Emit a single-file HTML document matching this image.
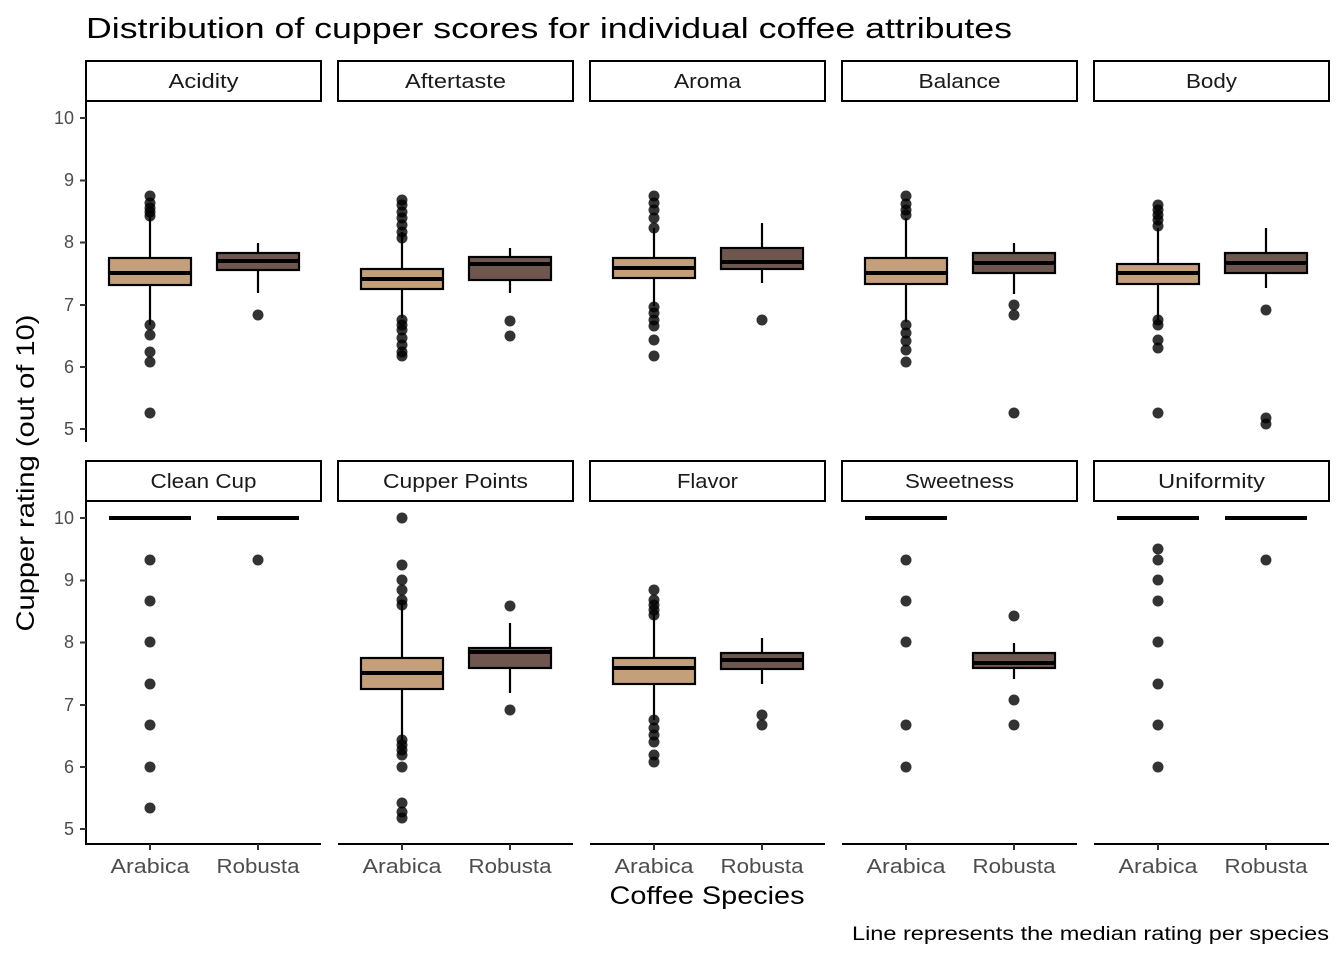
<!DOCTYPE html>
<html><head><meta charset="utf-8"><style>
html,body{margin:0;padding:0;background:#fff;}
svg{display:block;font-family:"Liberation Sans","DejaVu Sans",sans-serif;}
</style></head><body>
<svg id="s" width="1344" height="960" viewBox="0 0 1344 960" xmlns="http://www.w3.org/2000/svg">
<text x="86" y="38" font-size="29" fill="#000" textLength="926" lengthAdjust="spacingAndGlyphs">Distribution of cupper scores for individual coffee attributes</text>
<g id="strips" fill="#fff" stroke="#000" stroke-width="2">
<rect x="86" y="61" width="235" height="40"/><rect x="338" y="61" width="235" height="40"/><rect x="590" y="61" width="235" height="40"/><rect x="842" y="61" width="235" height="40"/><rect x="1094" y="61" width="235" height="40"/>
<rect x="86" y="461" width="235" height="40"/><rect x="338" y="461" width="235" height="40"/><rect x="590" y="461" width="235" height="40"/><rect x="842" y="461" width="235" height="40"/><rect x="1094" y="461" width="235" height="40"/>
</g>
<g font-size="20" fill="#1a1a1a" text-anchor="middle" lengthAdjust="spacingAndGlyphs">
<text x="203.5" y="88" textLength="70" lengthAdjust="spacingAndGlyphs">Acidity</text><text x="455.5" y="88" textLength="101" lengthAdjust="spacingAndGlyphs">Aftertaste</text><text x="707.5" y="88" textLength="67" lengthAdjust="spacingAndGlyphs">Aroma</text><text x="959.5" y="88" textLength="82" lengthAdjust="spacingAndGlyphs">Balance</text><text x="1211.5" y="88" textLength="51" lengthAdjust="spacingAndGlyphs">Body</text>
<text x="203.5" y="488" textLength="106" lengthAdjust="spacingAndGlyphs">Clean Cup</text><text x="455.5" y="488" textLength="145" lengthAdjust="spacingAndGlyphs">Cupper Points</text><text x="707.5" y="488" textLength="61" lengthAdjust="spacingAndGlyphs">Flavor</text><text x="959.5" y="488" textLength="109" lengthAdjust="spacingAndGlyphs">Sweetness</text><text x="1211.5" y="488" textLength="107" lengthAdjust="spacingAndGlyphs">Uniformity</text>
</g>
<g font-size="18" fill="#4d4d4d" text-anchor="end">
<text x="74" y="124">10</text><text x="74" y="186">9</text><text x="74" y="248">8</text><text x="74" y="311">7</text><text x="74" y="373">6</text><text x="74" y="435">5</text>
<text x="74" y="524">10</text><text x="74" y="586">9</text><text x="74" y="648">8</text><text x="74" y="711">7</text><text x="74" y="773">6</text><text x="74" y="835">5</text>
</g>
<g font-size="20" fill="#4d4d4d" text-anchor="middle">
<text x="150" y="873" textLength="79" lengthAdjust="spacingAndGlyphs">Arabica</text><text x="258" y="873" textLength="83" lengthAdjust="spacingAndGlyphs">Robusta</text>
<text x="402" y="873" textLength="79" lengthAdjust="spacingAndGlyphs">Arabica</text><text x="510" y="873" textLength="83" lengthAdjust="spacingAndGlyphs">Robusta</text>
<text x="654" y="873" textLength="79" lengthAdjust="spacingAndGlyphs">Arabica</text><text x="762" y="873" textLength="83" lengthAdjust="spacingAndGlyphs">Robusta</text>
<text x="906" y="873" textLength="79" lengthAdjust="spacingAndGlyphs">Arabica</text><text x="1014" y="873" textLength="83" lengthAdjust="spacingAndGlyphs">Robusta</text>
<text x="1158" y="873" textLength="79" lengthAdjust="spacingAndGlyphs">Arabica</text><text x="1266" y="873" textLength="83" lengthAdjust="spacingAndGlyphs">Robusta</text>
</g>
<text x="707" y="904" font-size="25" text-anchor="middle" fill="#000" textLength="195" lengthAdjust="spacingAndGlyphs">Coffee Species</text>
<text transform="translate(34,473) rotate(-90)" font-size="25" text-anchor="middle" fill="#000" textLength="317" lengthAdjust="spacingAndGlyphs">Cupper rating (out of 10)</text>
<text x="1329" y="940" font-size="19" text-anchor="end" fill="#000" textLength="477" lengthAdjust="spacingAndGlyphs">Line represents the median rating per species</text>
<g id="plots"></g>
</svg>
<script>
var ns="http://www.w3.org/2000/svg",g=document.getElementById("plots");
function el(t,a){var e=document.createElementNS(ns,t);for(var k in a)e.setAttribute(k,a[k]);g.appendChild(e);return e;}
el("line",{x1:86,y1:102,x2:86,y2:442,stroke:"#000","stroke-width":2});
el("line",{x1:86,y1:502,x2:86,y2:845,stroke:"#000","stroke-width":2});
[118,180.5,242.5,305,367,429].forEach(function(y){el("line",{x1:80,y1:y,x2:86,y2:y,stroke:"#333","stroke-width":2});el("line",{x1:80,y1:y+400,x2:86,y2:y+400,stroke:"#333","stroke-width":2});});
[86,338,590,842,1094].forEach(function(x){el("line",{x1:x,y1:844,x2:x+235,y2:844,stroke:"#000","stroke-width":2});
el("line",{x1:x+64,y1:844,x2:x+64,y2:850,stroke:"#333","stroke-width":2});el("line",{x1:x+172,y1:844,x2:x+172,y2:850,stroke:"#333","stroke-width":2});});
var cols=["#c4a07a","#6f5750"];
function box(cx,col,b){
 if(b.line){el("line",{x1:cx-41,y1:b.line,x2:cx+41,y2:b.line,stroke:"#000","stroke-width":4});}
 else{
 el("line",{x1:cx,y1:b.w[0],x2:cx,y2:b.w[1],stroke:"#000","stroke-width":2.2});
 el("rect",{x:cx-41,y:b.b[0],width:82,height:b.b[1]-b.b[0],fill:col,stroke:"#000","stroke-width":2.2});
 el("line",{x1:cx-41,y1:b.m,x2:cx+41,y2:b.m,stroke:"#000","stroke-width":4});}
 b.o.forEach(function(y){el("circle",{cx:cx,cy:y,r:5.5,fill:"#000","fill-opacity":0.8});});
}
var P=[
[86,{b:[258,285],m:273,w:[215,325],o:[196,203,208,212,216,325,335,352,362,413]},{b:[253,270],m:261,w:[243,293],o:[315]}],
[338,{b:[269,289],m:279,w:[232,318],o:[200,205,212,218,225,232,238,320,325,330,338,345,352,356]},{b:[257,280],m:264,w:[248,293],o:[321,336]}],
[590,{b:[258,278],m:268,w:[228,306],o:[196,203,210,218,228,307,313,320,326,340,356]},{b:[248,269],m:262,w:[223,283],o:[320]}],
[842,{b:[258,284],m:273,w:[218,322],o:[196,204,210,215,325,333,341,350,362]},{b:[253,273],m:263,w:[243,294],o:[305,315,413]}],
[1094,{b:[264,284],m:273,w:[228,320],o:[205,210,215,220,226,320,325,340,348,413]},{b:[253,273],m:263,w:[228,288],o:[310,418,424]}],
[86,{line:518,o:[560,601,642,684,725,767,808]},{line:518,o:[560]}],
[338,{b:[658,689],m:673,w:[600,740],o:[518,565,580,590,600,605,740,745,750,755,767,803,812,818]},{b:[648,668],m:652,w:[623,693],o:[606,710]}],
[590,{b:[658,684],m:668,w:[615,720],o:[590,600,605,610,615,720,728,735,742,755,762]},{b:[653,669],m:660,w:[638,684],o:[715,725]}],
[842,{line:518,o:[560,601,642,725,767]},{b:[653,668],m:663,w:[643,679],o:[616,700,725]}],
[1094,{line:518,o:[549,560,580,601,642,684,725,767]},{line:518,o:[560]}]
];
P.forEach(function(p){box(p[0]+64,cols[0],p[1]);box(p[0]+172,cols[1],p[2]);});
</script>
</body></html>
